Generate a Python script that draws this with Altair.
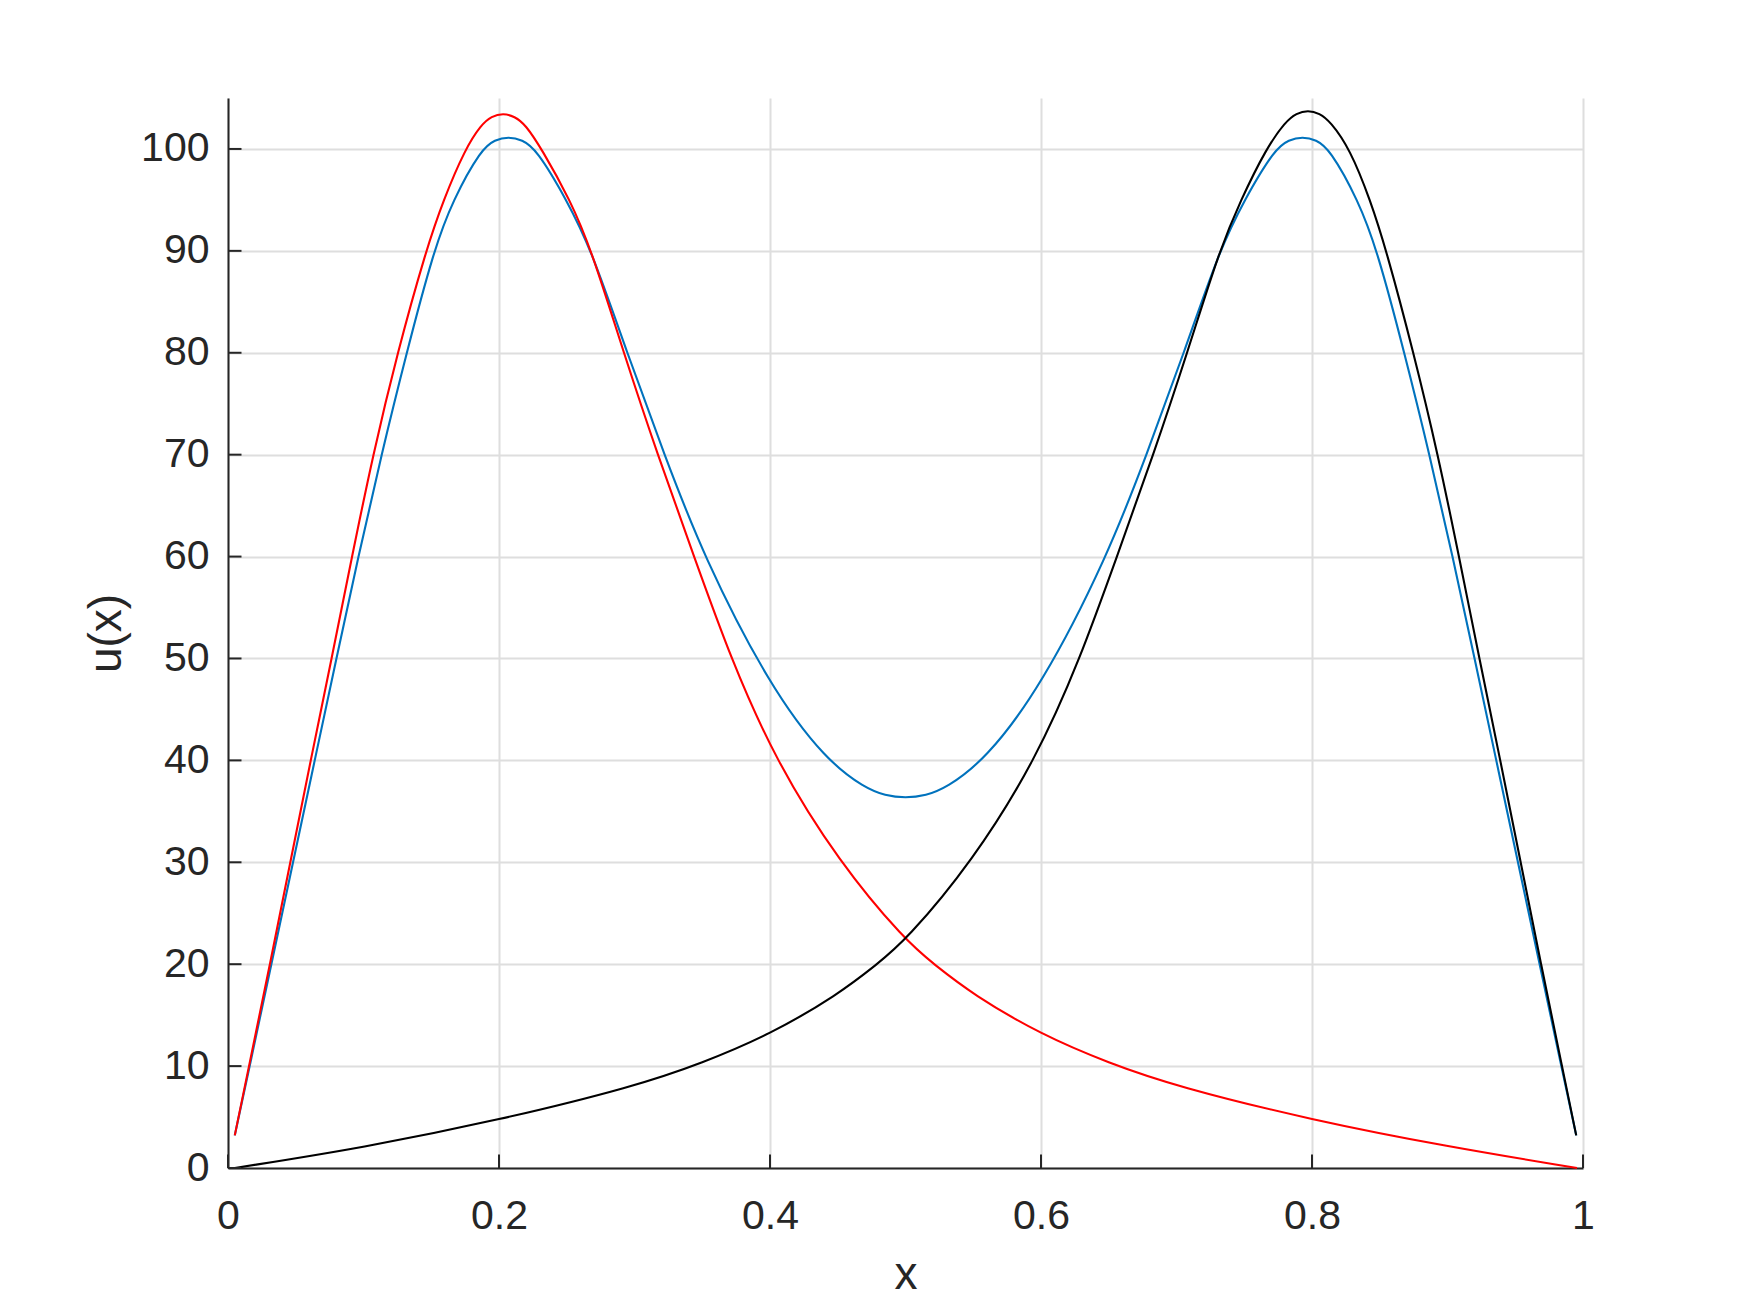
import altair as alt
import pandas as pd

# ---- data ----
blue_x = [0.005, 0.016, 0.032, 0.048, 0.064, 0.080, 0.0962, 0.1132, 0.1318, 0.1517, 0.166, 0.187, 0.197,
          0.207, 0.217, 0.2275, 0.250, 0.2685, 0.2945, 0.322, 0.351, 0.4, 0.4415, 0.47, 0.485, 0.5,
          0.515, 0.53, 0.5585, 0.6, 0.649, 0.678, 0.7055, 0.7315, 0.750, 0.7725, 0.783, 0.793,
          0.803, 0.813, 0.834, 0.8483, 0.8682, 0.8868, 0.9038, 0.920, 0.936, 0.952, 0.968, 0.984, 0.995]
blue_y = [3.2, 10, 20, 30, 40, 50, 60, 70, 80, 90, 95, 100, 100.9,
          101.2, 100.9, 100, 95, 90, 80, 70, 60, 47.2, 40, 37.3, 36.54, 36.3,
          36.54, 37.3, 40, 47.2, 60, 70, 80, 90, 95, 100, 100.9, 101.2,
          100.9, 100, 95, 90, 80, 70, 60, 50, 40, 30, 20, 10, 3.2]

red_x = [0.005, 0.0155, 0.031, 0.046, 0.061, 0.0765, 0.0915, 0.107, 0.125, 0.146, 0.159, 0.175,
         0.187, 0.1945, 0.203, 0.2115, 0.2195, 0.2315, 0.2525, 0.2685, 0.292, 0.317, 0.344, 0.371,
         0.404, 0.451, 0.5, 0.521, 0.55, 0.6, 0.65, 0.7, 0.8, 0.9, 0.9956]
red_y = [3.2, 10, 20, 30, 40, 50, 60, 70, 80, 90, 95, 100,
         102.4, 103.2, 103.5, 103.2, 102.4, 100, 95, 90, 80, 70, 60, 50,
         40, 30, 22.3, 20, 17.0, 13.1, 10.3, 8.0, 4.7, 2.1, 0]

black_x = [0.005, 0.1, 0.2, 0.3, 0.35, 0.4, 0.45, 0.479, 0.5, 0.549, 0.596, 0.629, 0.656, 0.683,
           0.708, 0.7315, 0.7475, 0.766, 0.7805, 0.7885, 0.797, 0.8055, 0.8135, 0.828, 0.843, 0.855, 0.875,
           0.893, 0.9085, 0.9235, 0.939, 0.954, 0.969, 0.9845, 0.995]
black_y = [0, 2.0, 4.7, 8.0, 10.3, 13.1, 17.0, 20, 22.3, 30, 40, 50, 60, 70,
           80, 90, 95, 100, 102.7, 103.5, 103.8, 103.5, 102.7, 100, 95, 90, 80,
           70, 60, 50, 40, 30, 20, 10, 3.2]

x_ticks = [0, 0.2, 0.4, 0.6, 0.8, 1]
y_ticks = [0, 10, 20, 30, 40, 50, 60, 70, 80, 90, 100]

W, H = 1355, 1070
AX = "#262626"
GRID = "#dedede"
FONT = "Liberation Sans"

xscale = alt.Scale(domain=[0, 1], nice=False, zero=False)
yscale = alt.Scale(domain=[0, 105], nice=False, zero=False)

xaxis = alt.Axis(values=x_ticks, format="~g", grid=True, gridColor=GRID, gridWidth=2, ticks=False, tickSize=0,
                 domainColor=AX, domainWidth=2, labelFont=FONT, labelFontSize=41, labelColor=AX,
                 labelPadding=28, labelFlush=False, labelOverlap=False,
                 titleFont=FONT, titleFontSize=46, titleFontWeight="normal", titleColor=AX,
                 titleBaseline="alphabetic", titleY=120)
yaxis = alt.Axis(values=y_ticks, format="d", grid=True, gridColor=GRID, gridWidth=2, ticks=False, tickSize=0,
                 domainColor=AX, domainWidth=2, labelFont=FONT, labelFontSize=41, labelColor=AX,
                 labelPadding=19, labelFlush=False, labelOverlap=False,
                 titleFont=FONT, titleFontSize=46, titleFontWeight="normal", titleColor=AX,
                 titleAngle=270, titleBaseline="alphabetic", titleAlign="center",
                 titleX=-108, titleY=H / 2)


def curve(xs, ys, color):
    df = pd.DataFrame({"x": xs, "y": ys})
    return alt.Chart(df).mark_line(color=color, strokeWidth=2.1, interpolate="basis").encode(
        x=alt.X("x:Q", scale=xscale, axis=xaxis, title="x"),
        y=alt.Y("y:Q", scale=yscale, axis=yaxis, title="u(x)"),
    )


xt = alt.Chart(pd.DataFrame({"x": x_ticks})).mark_rule(color=AX, strokeWidth=2).encode(
    x=alt.X("x:Q", scale=xscale, axis=xaxis, title="x"),
    y=alt.value(H), y2=alt.value(H - 13.5),
)
yt = alt.Chart(pd.DataFrame({"y": y_ticks})).mark_rule(color=AX, strokeWidth=2).encode(
    y=alt.Y("y:Q", scale=yscale, axis=yaxis, title="u(x)"),
    x=alt.value(0), x2=alt.value(13.5),
)

chart = alt.layer(
    curve(blue_x, blue_y, "#0072BD"),
    curve(red_x, red_y, "#FF0000"),
    curve(black_x, black_y, "#000000"),
    xt, yt,
).properties(
    width=W, height=H,
    autosize=alt.AutoSizeParams(type="none"),
    padding={"left": 220, "top": 90, "right": 140, "bottom": 130},
    background="white",
).configure_view(stroke=None)

chart.save("out.html", embed_options={"renderer": "svg", "actions": False})
